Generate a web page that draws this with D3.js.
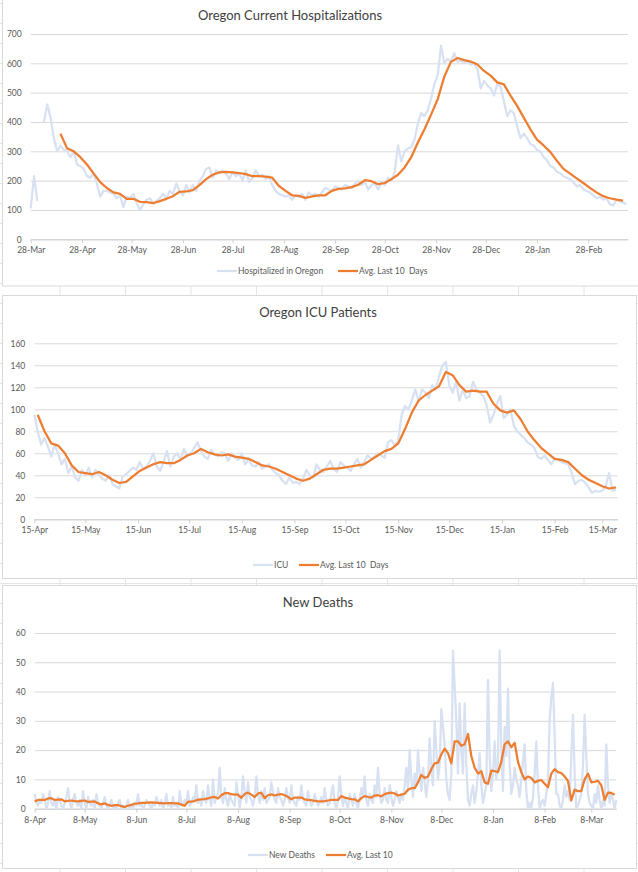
<!DOCTYPE html>
<html>
<head>
<meta charset="utf-8">
<script src="https://cdn.jsdelivr.net/npm/d3@7"></script>
<style>
  body { margin: 0; background: #fff; }
  text { font-family: Lato, "Open Sans", sans-serif; }
</style>
</head>
<body>
<svg id="chart" width="638" height="872"></svg>
<script>
// ---- data ----

// hospitalizations: daily value every 2 days from 28-Mar-2020, avg every 4 days from day 18
var hospStart = new Date(2020, 2, 28);
var hospRaw = [105, 215, 130, null, 400, 460, 415, 345, 300, 320,
    305, 300, 280, 300, 255, 250, 240, 215, 210, 225,
    190, 145, 165, 165, 160, 155, 140, 150, 110, 145,
    140, 155, 125, 100, 120, 135, 140, 125, 130, 140,
    155, 140, 165, 155, 190, 165, 150, 185, 160, 185,
    165, 200, 215, 240, 245, 210, 235, 225, 235, 225,
    205, 230, 215, 225, 200, 235, 195, 210, 235, 215,
    220, 205, 215, 185, 165, 155, 150, 145, 150, 135,
    150, 145, 155, 135, 160, 150, 155, 145, 160, 175,
    170, 165, 180, 175, 170, 185, 180, 175, 190, 200,
    185, 195, 170, 185, 190, 170, 195, 185, 210, 200,
    230, 320, 265, 300, 310, 315, 340, 395, 430, 420,
    440, 480, 530, 560, 660, 600, 615, 605, 635, 605,
    610, 600, 610, 595, 600, 580, 515, 540, 525, 515,
    490, 530, 520, 470, 420, 440, 430, 385, 345, 360,
    345, 325, 320, 305, 300, 280, 270, 250, 245, 230,
    225, 215, 210, 205, 195, 180, 185, 170, 165, 160,
    150, 140, 145, 135, 140, 120, 115, 135, 130, 125,
    120];
var hospAvg = [360, 310, 300, 280, 255, 225, 195, 175, 160, 155,
    138, 138, 128, 127, 123, 130, 138, 147, 162, 163,
    168, 185, 205, 220, 228, 230, 228, 226, 222, 215,
    215, 214, 210, 182, 165, 150, 148, 141, 146, 150,
    150, 165, 172, 174, 178, 186, 202, 198, 188, 192,
    205, 220, 245, 280, 330, 375, 425, 478, 555, 605,
    618, 611, 606, 596, 574, 558, 535, 528, 490, 455,
    415, 375, 340, 320, 298, 268, 240, 224, 208, 192,
    175, 160, 147, 140, 135, 132];

// ICU: every 2 days from 15-Apr-2020, avg every 4 days from day 2
var icuStart = new Date(2020, 3, 15);
var icuRaw = [95, 80, 68, 74, 66, 57, 68, 60, 50, 55,
    42, 48, 38, 35, 45, 40, 47, 38, 45, 40,
    37, 35, 40, 32, 30, 28, 39, 41, 44, 47,
    45, 52, 46, 48, 53, 60, 48, 44, 52, 62,
    48, 57, 60, 54, 64, 58, 60, 65, 70, 62,
    57, 55, 63, 59, 57, 61, 60, 53, 60, 56,
    54, 60, 50, 55, 49, 48, 52, 46, 48, 50,
    45, 42, 40, 35, 32, 38, 33, 34, 32, 37,
    45, 40, 38, 50, 45, 43, 48, 53, 46, 43,
    52, 49, 47, 44, 50, 55, 47, 52, 58, 55,
    57, 60, 58, 56, 70, 72, 67, 72, 95, 103,
    100, 108, 118, 107, 118, 115, 110, 122, 118, 130,
    140, 143, 122, 115, 125, 108, 118, 110, 112, 125,
    118, 115, 112, 104, 88, 95, 105, 112, 92, 95,
    100, 85, 80, 77, 74, 70, 68, 65, 57, 55,
    58, 54, 50, 55, 54, 52, 51, 50, 42, 32,
    35, 36, 33, 29, 24, 26, 25, 26, 30, 42,
    26, 27];
var icuAvg = [95, 80, 69, 67, 60, 49, 43, 42, 41, 43,
    40, 36, 33, 34, 39, 44, 47, 50, 52, 51,
    51, 54, 58, 60, 64, 61, 59, 58, 59, 57,
    56, 55, 52, 49, 48, 46, 43, 40, 37, 35,
    37, 41, 45, 46, 46, 47, 48, 49, 50, 54,
    58, 62, 64, 69, 82, 97, 108, 113, 117, 121,
    134, 131, 122, 116, 117, 116, 116, 105, 99, 97,
    99, 91, 80, 72, 65, 60, 55, 54, 52, 46,
    40, 36, 33, 30, 28, 29];

// deaths: daily from 8-Apr-2020, avg every 2 days
var deathStart = new Date(2020, 3, 8);
var deathRaw = [5, 2, 1, 3, 2, 5, 3, 0, 2, 6,
    2, 1, 3, 0, 4, 3, 1, 0, 2, 4,
    7, 2, 0, 3, 5, 2, 1, 3, 0, 6,
    2, 0, 4, 2, 1, 3, 0, 5, 2, 1,
    0, 2, 4, 1, 0, 1, 3, 0, 1, 0,
    2, 3, 0, 1, 0, 1, 3, 0, 1, 0,
    2, 1, 5, 1, 2, 0, 1, 3, 2, 1,
    0, 2, 1, 4, 2, 1, 3, 0, 2, 5,
    1, 2, 0, 4, 1, 2, 0, 6, 2, 1,
    3, 2, 6, 1, 2, 4, 3, 8, 2, 3,
    1, 6, 3, 2, 8, 3, 1, 10, 2, 4,
    5, 14, 4, 2, 7, 3, 1, 5, 3, 2,
    1, 9, 5, 0, 4, 11, 6, 2, 9, 4,
    3, 1, 4, 11, 5, 2, 6, 3, 7, 2,
    3, 4, 9, 6, 3, 2, 7, 4, 3, 1,
    3, 7, 4, 2, 8, 3, 2, 1, 4, 3,
    8, 3, 2, 1, 6, 3, 1, 2, 5, 3,
    1, 2, 4, 2, 7, 3, 1, 2, 5, 8,
    2, 0, 3, 11, 5, 1, 4, 2, 0, 5,
    3, 1, 5, 2, 0, 3, 7, 4, 11, 3,
    1, 5, 3, 2, 8, 4, 14, 5, 2, 3,
    7, 3, 2, 8, 4, 1, 3, 6, 4, 2,
    5, 3, 8, 14, 6, 20, 10, 4, 12, 8,
    20, 12, 6, 14, 9, 4, 10, 24, 14, 8,
    30, 20, 10, 15, 34, 28, 22, 10, 5, 3,
    12, 54, 42, 30, 12, 36, 20, 12, 36, 15,
    3, 1, 5, 8, 2, 6, 12, 19, 8, 2,
    5, 8, 44, 18, 6, 12, 23, 10, 16, 54,
    20, 6, 28, 18, 41, 15, 5, 8, 14, 10,
    8, 4, 10, 16, 22, 6, 0, 2, 0, 4,
    12, 23, 8, 0, 2, 3, 1, 5, 10, 30,
    38, 43, 25, 5, 5, 1, 0, 3, 8, 4,
    6, 3, 18, 32, 12, 0, 1, 3, 5, 15,
    32, 18, 5, 2, 1, 0, 5, 2, 8, 3,
    0, 3, 1, 22, 8, 2, 5, 3, 0, 3];
var deathAvg = [2.5, 3.0, 3.0, 3.0, 3.5, 3.6, 3.0, 3.1, 3.2, 2.5,
    2.7, 2.8, 2.6, 2.5, 2.7, 2.8, 2.3, 2.4, 2.5, 1.8,
    1.5, 1.8, 1.3, 1.0, 1.2, 1.2, 0.9, 0.6, 1.0, 1.3,
    1.7, 1.8, 2.0, 2.0, 2.1, 2.2, 2.1, 2.0, 1.9, 1.8,
    1.9, 1.9, 1.8, 1.8, 1.4, 1.0, 2.4, 2.4, 2.6, 3.1,
    3.2, 3.3, 3.5, 3.9, 4.0, 3.5, 4.6, 5.3, 5.3, 5.0,
    4.8, 4.8, 3.7, 5.0, 5.5, 4.8, 4.0, 5.2, 5.4, 3.6,
    4.6, 4.9, 4.5, 4.8, 5.0, 4.6, 4.0, 3.2, 3.8, 3.8,
    3.8, 3.2, 3.0, 2.9, 2.7, 2.5, 2.5, 2.6, 2.8, 3.0,
    3.0, 3.0, 4.3, 3.8, 3.5, 3.3, 3.2, 2.5, 3.6, 4.3,
    4.0, 3.8, 4.5, 4.6, 4.2, 5.0, 5.3, 5.5, 5.2, 4.5,
    4.8, 5.1, 6.5, 7.0, 7.0, 9.0, 11.5, 10.5, 11.0, 13.5,
    15.5, 15.7, 18.5, 20.5, 19.0, 15.5, 23.0, 23.0, 21.5, 22.0,
    25.5, 18.0, 14.0, 12.0, 12.8, 9.0, 8.5, 13.0, 12.8, 12.5,
    16.0, 22.0, 23.0, 21.0, 22.5, 16.0, 12.5, 10.0, 11.0, 10.5,
    9.0, 9.5, 9.8, 8.5, 7.3, 12.0, 13.5, 12.5, 12.2, 11.0,
    9.5, 2.8, 6.5, 6.0, 6.0, 10.0, 12.0, 9.0, 9.2, 9.5,
    8.0, 3.0, 5.5, 5.4, 4.8];

var panels = [
    { title: "Oregon Current Hospitalizations", titleX: 290, titleY: 20,
      box: [2, -2, 642, 285.5],
      start: hospStart, days: 361, xr: [30.7, 628],
      yMax: 700, yStep: 100, yr: [239.3, 34],
      raw: hospRaw, rawFrom: 0, rawStep: 2,
      avg: hospAvg, avgFrom: 18, avgStep: 4,
      names: ["Hospitalized in Oregon", "Avg. Last 10  Days"],
      legendY: 271, legendX: [217, 338] },
    { title: "Oregon ICU Patients", titleX: 318, titleY: 317,
      box: [2, 295, 636, 578],
      start: icuStart, days: 343, xr: [34.3, 617.6],
      yMax: 160, yStep: 20, yr: [519.3, 343.3],
      raw: icuRaw, rawFrom: 0, rawStep: 2,
      avg: icuAvg, avgFrom: 2, avgStep: 4,
      names: ["ICU", "Avg. Last 10  Days"],
      legendY: 565, legendX: [253, 299] },
    { title: "New Deaths", titleX: 318, titleY: 607,
      box: [2, 585, 636, 868],
      start: deathStart, days: 349, xr: [34.7, 616.3],
      yMax: 60, yStep: 10, yr: [808.7, 633],
      raw: deathRaw, rawFrom: 0, rawStep: 1,
      avg: deathAvg, avgFrom: 0, avgStep: 2,
      names: ["New Deaths", "Avg. Last 10"],
      legendY: 855, legendX: [248, 326] }
];

var RAW_COLOR = "#d8e1f2";
var AVG_COLOR = "#ed7d31";
var GRID = "#d9d9d9";

var svg = d3.select("#chart");

// spreadsheet cells behind the charts
function drawSheet() {
    var g = svg.append("g").attr("class", "sheet");
    g.selectAll("line.col")
        .data(d3.range(60, 640, 65.5))
        .enter().append("line")
        .attr("x1", function(d){ return d; })
        .attr("x2", function(d){ return d; })
        .attr("y1", 0).attr("y2", 872)
        .attr("stroke", "#e4e4e4");
    g.selectAll("line.row")
        .data(d3.range(3, 872, 20))
        .enter().append("line")
        .attr("x1", 0).attr("x2", 638)
        .attr("y1", function(d){ return d + 0.5; })
        .attr("y2", function(d){ return d + 0.5; })
        .attr("stroke", "#e4e4e4");
}

function series(values, from, step, start) {
    return values.map(function(v, i){
        return { date: d3.timeDay.offset(start, from + i * step), value: v };
    });
}

function drawPanel(p) {
    var g = svg.append("g");

    g.append("rect")
        .attr("x", p.box[0] + 0.5).attr("y", p.box[1] + 0.5)
        .attr("width", p.box[2] - p.box[0]).attr("height", p.box[3] - p.box[1])
        .attr("fill", "#fff").attr("stroke", GRID);

    var x = d3.scaleTime()
        .domain([p.start, d3.timeDay.offset(p.start, p.days)])
        .range(p.xr);
    var y = d3.scaleLinear()
        .domain([0, p.yMax])
        .range(p.yr);

    var yTicks = d3.range(0, p.yMax + 1, p.yStep);
    var xTicks = d3.range(12)
        .map(function(i){ return d3.timeMonth.offset(p.start, i); })
        .filter(function(d){ return d <= x.domain()[1]; });

    // horizontal gridlines + y labels
    var yAxis = d3.axisLeft(y)
        .tickValues(yTicks)
        .tickSize(-(p.xr[1] - p.xr[0]))
        .tickPadding(9)
        .tickFormat(d3.format("d"));
    var ya = g.append("g")
        .attr("transform", "translate(" + p.xr[0] + ",0)")
        .call(yAxis);
    ya.select(".domain").remove();
    ya.selectAll(".tick line").attr("stroke", GRID);
    ya.selectAll(".tick text")
        .attr("fill", "#595959")
        .style("font-size", "8.5px");

    // date axis
    var xAxis = d3.axisBottom(x)
        .tickValues(xTicks)
        .tickSize(4)
        .tickSizeOuter(0)
        .tickPadding(4)
        .tickFormat(d3.timeFormat("%-d-%b"));
    var xa = g.append("g")
        .attr("transform", "translate(0," + p.yr[0] + ")")
        .call(xAxis);
    xa.select(".domain").attr("stroke", "#cfcfcf");
    xa.selectAll(".tick line").attr("stroke", "#cfcfcf");
    xa.selectAll(".tick text")
        .attr("fill", "#595959")
        .style("font-size", "8.5px");

    var line = d3.line()
        .defined(function(d){ return d.value !== null; })
        .x(function(d){ return x(d.date); })
        .y(function(d){ return y(d.value); });

    g.append("path")
        .datum(series(p.raw, p.rawFrom, p.rawStep, p.start))
        .attr("d", line)
        .attr("fill", "none")
        .attr("stroke", RAW_COLOR)
        .attr("stroke-width", 2.25)
        .attr("stroke-linejoin", "round");

    g.append("path")
        .datum(series(p.avg, p.avgFrom, p.avgStep, p.start))
        .attr("d", line)
        .attr("fill", "none")
        .attr("stroke", AVG_COLOR)
        .attr("stroke-width", 2.25)
        .attr("stroke-linejoin", "round");

    g.append("text")
        .attr("x", p.titleX).attr("y", p.titleY)
        .attr("text-anchor", "middle")
        .attr("fill", "#404040")
        .style("font-size", "13px")
        .text(p.title);

    // legend
    var colors = [RAW_COLOR, AVG_COLOR];
    p.names.forEach(function(name, i){
        var lx = p.legendX[i];
        g.append("line")
            .attr("x1", lx).attr("x2", lx + 20)
            .attr("y1", p.legendY).attr("y2", p.legendY)
            .attr("stroke", colors[i])
            .attr("stroke-width", 2.25);
        g.append("text")
            .attr("x", lx + 21).attr("y", p.legendY)
            .attr("dy", "0.35em")
            .attr("fill", "#595959")
            .style("font-size", "8.5px")
            .style("white-space", "pre")
            .attr("xml:space", "preserve")
            .text(name);
    });
}

drawSheet();
panels.forEach(drawPanel);
</script>
</body>
</html>
